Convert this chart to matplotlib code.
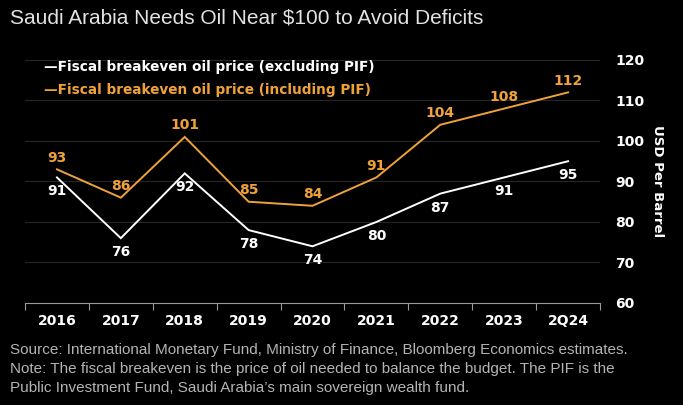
import numpy as np
import matplotlib
matplotlib.use("Agg")
from matplotlib import pyplot as plt

years = ["2016", "2017", "2018", "2019", "2020", "2021", "2022", "2023", "2Q24"]
excl_pif = [91, 76, 92, 78, 74, 80, 87, 91, 95]
incl_pif = [93, 86, 101, 85, 84, 91, 104, 108, 112]
yticks = [60, 70, 80, 90, 100, 110, 120]

orange = "#f0a23a"
grid_c = "#262626"
axis_c = "#9a9a9a"
narrow = ["Liberation Sans", "DejaVu Sans"]

fig = plt.figure(figsize=(6.83, 4.05), dpi=100, facecolor="black")
ax = fig.add_axes([0.0366, 0.2519, 0.8419, 0.6])
ax.set_facecolor("black")

x = np.arange(len(years))
ax.plot(x, excl_pif, color="white", lw=1.4, solid_joinstyle="miter")
ax.plot(x, incl_pif, color=orange, lw=1.4, solid_joinstyle="miter")

for i in range(len(years)):
    ax.annotate(str(excl_pif[i]), (x[i], excl_pif[i]), xytext=(0, -10),
                textcoords="offset points", ha="center", va="center",
                color="white", fontsize=10, fontweight="bold")
    ax.annotate(str(incl_pif[i]), (x[i], incl_pif[i]), xytext=(0, 8.5),
                textcoords="offset points", ha="center", va="center",
                color=orange, fontsize=10, fontweight="bold")

ax.set_xlim(-0.5, len(years) - 0.5)
ax.set_ylim(60, 120)
ax.set_yticks(yticks)
for t in yticks[1:]:
    ax.axhline(t, color=grid_c, lw=0.8, zorder=0)

# ticks between categories, labels centered
ax.set_xticks(np.arange(-0.5, len(years), 1.0))
ax.set_xticklabels([])
ax.set_xticks(x, minor=True)
ax.set_xticklabels(years, minor=True, color="white", fontsize=10, fontweight="bold")
ax.tick_params(axis="x", which="major", length=5, width=0.8, color=axis_c)
ax.tick_params(axis="x", which="minor", length=0, pad=8)

ax.yaxis.tick_right()
ax.tick_params(axis="y", length=0, pad=11, labelcolor="white", labelsize=10)
for lab in ax.get_yticklabels():
    lab.set_fontweight("bold")
ax.yaxis.set_label_position("right")
ax.set_ylabel("USD Per Barrel", rotation=270, color="white", fontsize=9.5,
              fontweight="bold", labelpad=14)

for s in ["top", "left", "right"]:
    ax.spines[s].set_visible(False)
ax.spines["bottom"].set_color(axis_c)
ax.spines["bottom"].set_linewidth(0.8)

fig.text(0.015, 0.955, "Saudi Arabia Needs Oil Near $100 to Avoid Deficits",
         color="#e2e2e2", fontsize=15, family=narrow, va="center")

fig.text(0.064, 0.835, "\u2014Fiscal breakeven oil price (excluding PIF)",
         color="white", fontsize=9.8, fontweight="bold", va="center")
fig.text(0.064, 0.778, "\u2014Fiscal breakeven oil price (including PIF)",
         color=orange, fontsize=9.8, fontweight="bold", va="center")

notes = ["Source: International Monetary Fund, Ministry of Finance, Bloomberg Economics estimates.",
         "Note: The fiscal breakeven is the price of oil needed to balance the budget. The PIF is the",
         "Public Investment Fund, Saudi Arabia\u2019s main sovereign wealth fund."]
for k, line in enumerate(notes):
    fig.text(0.015, 0.136 - k * 0.047, line, color="#b4b4b4", fontsize=11,
             family=narrow, va="center")

fig.savefig("out.png", dpi=100, facecolor="black")
